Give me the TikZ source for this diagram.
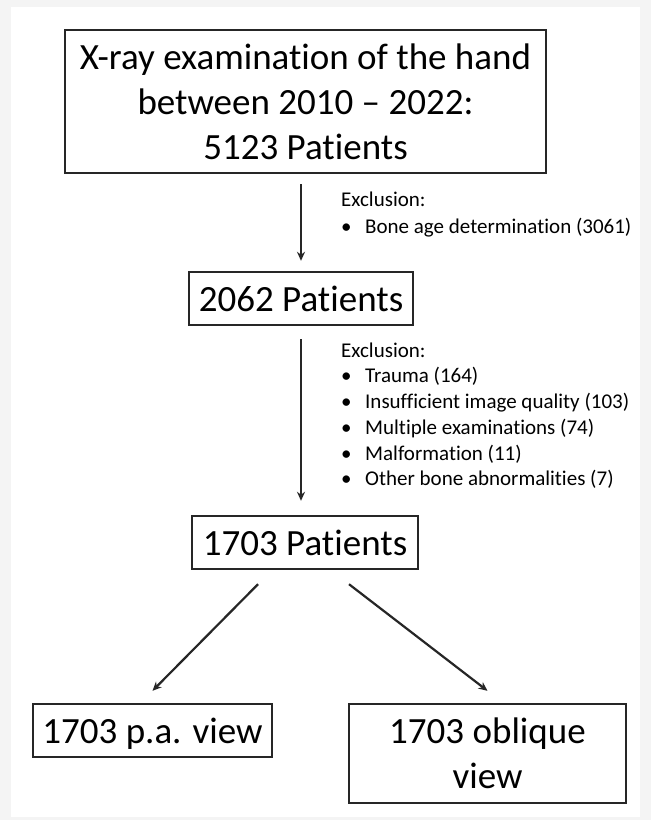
\documentclass[tikz,border=0pt]{standalone}
\usepackage{fontspec}
\setmainfont{Carlito}[Ligatures={NoCommon}]
\usetikzlibrary{arrows.meta}
\begin{document}
\begin{tikzpicture}[x=1pt,y=-1pt,
  bx/.style={draw=black!85, line width=2.4pt, inner sep=0pt, font=\fontsize{37}{45}\selectfont, align=center},
  one/.style={text height=26pt, text depth=0pt},
  arr/.style={draw=black!85, line width=2.2pt, -{Stealth[length=9pt,width=8pt]}},
  sm/.style={inner sep=0pt, anchor=base west, font=\fontsize{21}{25}\selectfont}]
\fill[gray!9] (0,0) rectangle (651,820);
\fill[white] (11,7) rectangle (640,817);
\useasboundingbox (0,0) rectangle (651,820);
\newcommand\bul[1]{\makebox[24pt][l]{•}#1}
% boxes
\node[bx, minimum width=481pt, minimum height=143pt] (top) at (305.5,101.5)
  {X-ray examination of the hand\\between 2010 – 2022:\\5123 Patients};
\node[bx, one, minimum width=224pt, minimum height=53pt] (b2) at (301,298.5) {2062 Patients};
\node[bx, one, minimum width=226pt, minimum height=53pt] (b3) at (305,542.5) {1703 Patients};
\node[bx, one, minimum width=239pt, minimum height=53pt] (b4) at (152.5,730.5) {1703 p.a. view};
\node[bx, minimum width=277pt, minimum height=99pt] (b5) at (487.5,753.5) {1703 oblique\\view};
% exclusion texts
\node[sm] (e1) at (341,206) {Exclusion:};
\node[sm] (e1a) at (341,233) {\bul{Bone age determination (3061)}};
\node[sm] (e2) at (341,357) {Exclusion:};
\node[sm] (e2a) at (341,382) {\bul{Trauma (164)}};
\node[sm] (e2b) at (341,408) {\bul{Insufficient image quality (103)}};
\node[sm] (e2c) at (341,434) {\bul{Multiple examinations (74)}};
\node[sm] (e2d) at (341,460) {\bul{Malformation (11)}};
\node[sm] (e2e) at (341,485) {\bul{Other bone abnormalities (7)}};
% arrows
\draw[arr, shorten <=10pt, shorten >=10pt] (top.south -| b2.north) -- (b2.north);
\draw[arr, shorten <=13pt, shorten >=14pt] (b2.south) -- (b3.north -| b2.south);
\draw[arr] ([xshift=-47pt,yshift=-14pt]b3.south) -- ([yshift=12pt]b4.north);
\draw[arr] ([xshift=44pt,yshift=-14pt]b3.south) -- ([yshift=12pt]b5.north);
\end{tikzpicture}
\end{document}
